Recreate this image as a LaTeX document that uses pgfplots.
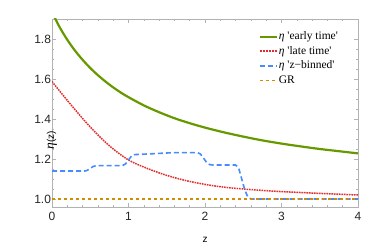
\documentclass[border=0pt]{standalone}
\usepackage{fontspec}
\setmainfont{Liberation Sans}
\newfontfamily\serif{Liberation Serif}
\usepackage{pgfplots}
\pgfplotsset{compat=1.18}
\definecolor{cgreen}{RGB}{102,153,0}
\definecolor{lred}{RGB}{225,45,45}
\definecolor{cblue}{RGB}{70,140,255}
\definecolor{corange}{RGB}{210,140,0}
\definecolor{cframe}{RGB}{178,178,178}

\pgfplotstableread{
z eta
0.00 1.934
0.10 1.859
0.20 1.796
0.30 1.742
0.40 1.696
0.50 1.655
0.60 1.619
0.70 1.587
0.80 1.558
0.90 1.532
1.00 1.509
1.20 1.468
1.40 1.434
1.60 1.404
1.80 1.379
2.00 1.357
2.25 1.333
2.50 1.312
2.75 1.293
3.00 1.277
3.25 1.263
3.50 1.250
3.75 1.239
4.00 1.228
}\early

\pgfplotstableread{
z eta
0.00 1.587
0.25 1.470
0.50 1.360
0.75 1.266
1.00 1.195
1.25 1.152
1.50 1.118
1.75 1.092
2.00 1.073
2.25 1.059
2.50 1.050
2.75 1.043
3.00 1.037
3.50 1.028
4.00 1.020
}\late

\pgfplotstableread{
z eta
0.00 1.140
0.43 1.140
0.46 1.143
0.50 1.153
0.54 1.163
0.58 1.167
0.92 1.167
0.96 1.175
1.00 1.195
1.04 1.215
1.08 1.222
1.30 1.226
1.60 1.232
1.90 1.232
1.94 1.225
1.98 1.205
2.02 1.183
2.06 1.172
2.10 1.170
2.40 1.170
2.44 1.155
2.48 1.100
2.52 1.045
2.56 1.010
2.60 1.000
4.00 1.000
}\binned

\pgfplotstableread{
z eta
0 1.0
4 1.0
}\gr

\begin{document}
\begin{tikzpicture}
\begin{axis}[
  scale only axis, width=306pt, height=188pt,
  xmin=0, xmax=4, ymin=0.96, ymax=1.90,
  xtick={0,1,2,3,4}, ytick={1.0,1.2,1.4,1.6,1.8},
  minor x tick num=4, minor y tick num=3,
  yticklabel style={/pgf/number format/fixed, /pgf/number format/fixed zerofill, /pgf/number format/precision=1, xshift=2.5pt},
  /pgf/number format/assume math mode=true,
  tick label style={font=\fontsize{12}{14}\selectfont, text=black!85},
  xticklabel style={yshift=-1.5pt},
  axis line style={cframe, line width=0.6pt},
  every tick/.style={cframe, line width=0.6pt},
  major tick length=4pt, minor tick length=2.2pt,
  tick align=inside,
  xlabel={z},
  ylabel={{\serif\itshape\fontsize{13.5}{14}\selectfont η}(z)},
  label style={font=\fontsize{12.5}{14}\selectfont, text=black!85},
  every axis x label/.style={at={(rel axis cs:0.5,0)}, anchor=center, yshift=-33pt},
  every axis y label/.style={at={(rel axis cs:0,0.5)}, rotate=90, anchor=center, xshift=-27pt},
  legend cell align=left,
  legend style={draw=none, fill=none, at={(rel axis cs:0.665,0.95)}, anchor=north west,
    font=\serif\fontsize{11.5}{13}\selectfont,
    nodes={inner sep=1pt, text height=8pt, text depth=2.5pt},
    row sep=2pt,
    /tikz/every even column/.append style={column sep=0pt}},
  legend image code/.code={\draw[line cap=butt, #1] (0pt,0pt) -- (17pt,0pt);},
]
\addplot[color=cgreen, line width=2.2pt, smooth] table[x=z,y=eta] {\early};
\addlegendentry{{\itshape η} \textquotesingle early time\textquotesingle}
\addplot[color=lred, line width=1.5pt, dash pattern=on 1.6pt off 0.9pt, smooth,
  legend image code/.code={\draw[draw=lred, line width=1.8pt, dash pattern=on 2pt off 1pt] (0pt,0pt) -- (17pt,0pt);}] table[x=z,y=eta] {\late};
\addlegendentry{{\itshape η} \textquotesingle late time\textquotesingle}
\addplot[color=cblue, line width=1.6pt, dash pattern=on 5pt off 3pt] table[x=z,y=eta] {\binned};
\addlegendentry{{\itshape η} \textquotesingle z−binned\textquotesingle}
\addplot[color=corange, line width=1.6pt, dash pattern=on 3pt off 3pt] table[x=z,y=eta] {\gr};
\addlegendentry{GR}
\end{axis}
\path ([xshift=-52pt,yshift=-43pt]current axis.south west) rectangle ([xshift=16pt,yshift=19pt]current axis.north east);
\end{tikzpicture}
\end{document}
